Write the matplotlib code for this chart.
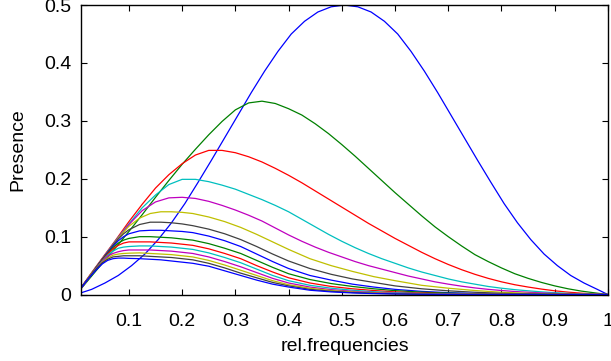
import matplotlib
matplotlib.use("Agg")
import matplotlib.pyplot as plt

# ---- large curves (k = 2..6), read on a finer x spacing ----
x_k2 = [0.01, 0.03, 0.055, 0.08, 0.105, 0.13, 0.155, 0.18, 0.205, 0.23,
        0.255, 0.28, 0.305, 0.33, 0.355, 0.38, 0.405, 0.43, 0.455, 0.48,
        0.505, 0.53, 0.555, 0.58, 0.605, 0.63, 0.655, 0.68, 0.705, 0.73,
        0.755, 0.78, 0.805, 0.83, 0.855, 0.88, 0.905, 0.93, 0.955, 0.98, 1.0]
presence_k2 = [.003, .009, .020, .033, .050, .070, .095, .124, .157, .194,
               .232, .271, .310, .349, .386, .420, .450, .472, .488, .497,
               .500, .497, .488, .472, .450, .420, .386, .349, .310, .271,
               .232, .194, .157, .124, .095, .070, .050, .033, .020, .009, 0]

x_big = [0.01, 0.03, 0.05, 0.075, 0.10, 0.125, 0.15, 0.175, 0.20, 0.225,
         0.25, 0.275, 0.30, 0.325, 0.35, 0.375, 0.40, 0.425, 0.45, 0.475,
         0.50, 0.525, 0.55, 0.575, 0.60, 0.625, 0.65, 0.675, 0.70, 0.725,
         0.75, 0.775, 0.80, 0.825, 0.85, 0.875, 0.90, 0.925, 0.95, 0.975, 1.0]
presence_k3 = [.010, .032, .054, .081, .109, .138, .168, .197, .225, .251,
               .276, .299, .319, .331, .334, .330, .321, .310, .295, .278,
               .259, .239, .218, .197, .176, .156, .136, .117, .100, .084,
               .069, .057, .046, .036, .028, .021, .015, .010, .006, .003, 0]
presence_k4 = [.012, .038, .063, .094, .126, .156, .184, .207, .226, .241,
               .249, .249, .245, .238, .229, .218, .206, .193, .179, .165,
               .151, .137, .123, .110, .097, .085, .073, .062, .052, .043,
               .035, .028, .022, .017, .013, .0095, .0065, .0042, .0024, .001, 0]
presence_k5 = [.012, .037, .062, .093, .122, .150, .172, .190, .199, .199,
               .195, .189, .182, .173, .164, .154, .143, .130, .117, .104,
               .092, .081, .071, .062, .054, .046, .039, .033, .027, .022,
               .018, .014, .011, .0085, .0065, .0047, .0033, .0021, .0012, .0005, 0]
presence_k6 = [.012, .037, .062, .092, .121, .145, .160, .167, .168, .166,
               .161, .154, .146, .137, .127, .115, .103, .092, .082, .073,
               .065, .057, .050, .044, .038, .032, .027, .022, .018, .0145,
               .0115, .009, .007, .0053, .004, .0029, .002, .0013, .0007, .0003, 0]

# ---- small curves (k = 7..16) ----
x_small = [0.01, 0.02, 0.03, 0.04, 0.05, 0.06, 0.07, 0.08, 0.09, 0.10,
           0.12, 0.14, 0.16, 0.18, 0.20, 0.22,
           0.25, 0.28, 0.31, 0.34, 0.37, 0.40,
           0.44, 0.48, 0.52, 0.56, 0.60,
           0.65, 0.70, 0.75, 0.80, 0.85, 0.90, 0.95, 1.00]
presence_k7 = [.012, .024, .037, .049, .061, .073, .085, .097, .108, .118,
               .132, .140, .143, .143, .142, .140,
               .134, .126, .116, .104, .091, .078,
               .062, .050, .040, .031, .024,
               .016, .011, .007, .004, .0022, .0011, .0004, 0]
presence_k8 = [.012, .024, .036, .049, .061, .073, .085, .096, .105, .112,
               .121, .125, .125, .124, .122, .119,
               .113, .105, .095, .083, .070, .058,
               .045, .035, .027, .021, .015,
               .010, .0065, .004, .0022, .0011, .0005, .0002, 0]
presence_k9 = [.011, .023, .035, .048, .060, .072, .083, .093, .100, .105,
               .110, .111, .111, .110, .109, .107,
               .101, .093, .083, .070, .057, .045,
               .033, .025, .018, .013, .009,
               .0055, .0033, .0019, .001, .0005, .0002, .0001, 0]
presence_k10 = [.011, .023, .035, .048, .060, .071, .081, .089, .094, .097,
                .100, .100, .099, .098, .096, .094,
                .088, .080, .071, .059, .047, .036,
                .026, .019, .014, .010, .0068,
                .0042, .0025, .0014, .0007, .0003, .0001, 0, 0]
presence_k11 = [.011, .023, .035, .047, .059, .070, .079, .085, .089, .091,
                .091, .091, .090, .089, .087, .085,
                .079, .071, .062, .050, .039, .029,
                .020, .014, .010, .007, .0046,
                .0027, .0015, .0008, .0004, .0002, .0001, 0, 0]
presence_k12 = [.011, .023, .035, .047, .058, .068, .075, .080, .082, .083,
                .084, .084, .083, .082, .080, .078,
                .072, .064, .055, .044, .033, .024,
                .016, .011, .0075, .005, .0032,
                .0018, .001, .0005, .0002, .0001, 0, 0, 0]
presence_k13 = [.011, .023, .035, .047, .057, .066, .071, .074, .076, .077,
                .077, .077, .076, .075, .073, .071,
                .065, .057, .048, .038, .028, .020,
                .013, .0085, .0056, .0036, .0023,
                .0012, .0006, .0003, .0001, 0, 0, 0, 0]
presence_k14 = [.011, .023, .035, .046, .056, .063, .068, .070, .071, .0715,
                .072, .071, .070, .069, .067, .065,
                .059, .051, .042, .033, .024, .017,
                .011, .007, .0045, .0028, .0017,
                .0009, .0004, .0002, .0001, 0, 0, 0, 0]
presence_k15 = [.011, .023, .035, .046, .055, .061, .065, .066, .067, .067,
                .067, .066, .065, .064, .062, .060,
                .054, .046, .037, .029, .021, .015,
                .009, .0057, .0036, .0022, .0013,
                .0007, .0003, .0001, 0, 0, 0, 0, 0]
presence_k16 = [.011, .023, .034, .044, .053, .059, .062, .063, .063, .0625,
                .062, .061, .060, .058, .056, .054,
                .049, .041, .033, .025, .018, .013,
                .0075, .0046, .0028, .0017, .001,
                .0005, .0002, .0001, 0, 0, 0, 0, 0]

curves = [(x_k2, presence_k2), (x_big, presence_k3), (x_big, presence_k4),
          (x_big, presence_k5), (x_big, presence_k6),
          (x_small, presence_k7), (x_small, presence_k8), (x_small, presence_k9),
          (x_small, presence_k10), (x_small, presence_k11), (x_small, presence_k12),
          (x_small, presence_k13), (x_small, presence_k14), (x_small, presence_k15),
          (x_small, presence_k16)]

x_ticks = [0.1, 0.2, 0.3, 0.4, 0.5, 0.6, 0.7, 0.8, 0.9, 1.0]
x_tick_labels = ["0.1", "0.2", "0.3", "0.4", "0.5", "0.6", "0.7", "0.8", "0.9", "1"]
y_ticks = [0, 0.1, 0.2, 0.3, 0.4, 0.5]
y_tick_labels = ["0", "0.1", "0.2", "0.3", "0.4", "0.5"]

# matlab default colour cycle b g r c m y k
colors = ["#0000ff", "#008000", "#ff0000", "#00bfbf", "#bf00bf", "#bfbf00", "#404040"]

plt.rcParams["font.family"] = ["Liberation Sans", "DejaVu Sans"]

fig = plt.figure(figsize=(6.11, 3.61), dpi=100)
ax = fig.add_axes([0.1326, 0.184, 0.8624, 0.802])

for i, (xs, ys) in enumerate(curves):
    ax.plot(xs, ys, color=colors[i % len(colors)], lw=0.9)

ax.set_xlim(0.01, 1.0)
ax.set_ylim(0, 0.5)
ax.set_xticks(x_ticks)
ax.set_xticklabels(x_tick_labels)
ax.set_yticks(y_ticks)
ax.set_yticklabels(y_tick_labels)
ax.tick_params(direction="in", top=True, right=True, length=4, width=0.8,
               labelsize=14)
ax.tick_params(axis="x", pad=13)
ax.tick_params(axis="y", pad=7)
for s in ax.spines.values():
    s.set_linewidth(1.0)
ax.set_xlabel("rel.frequencies", fontsize=14, labelpad=6)
ax.set_ylabel("Presence", fontsize=14, labelpad=13)

fig.savefig("out.png", dpi=100)
